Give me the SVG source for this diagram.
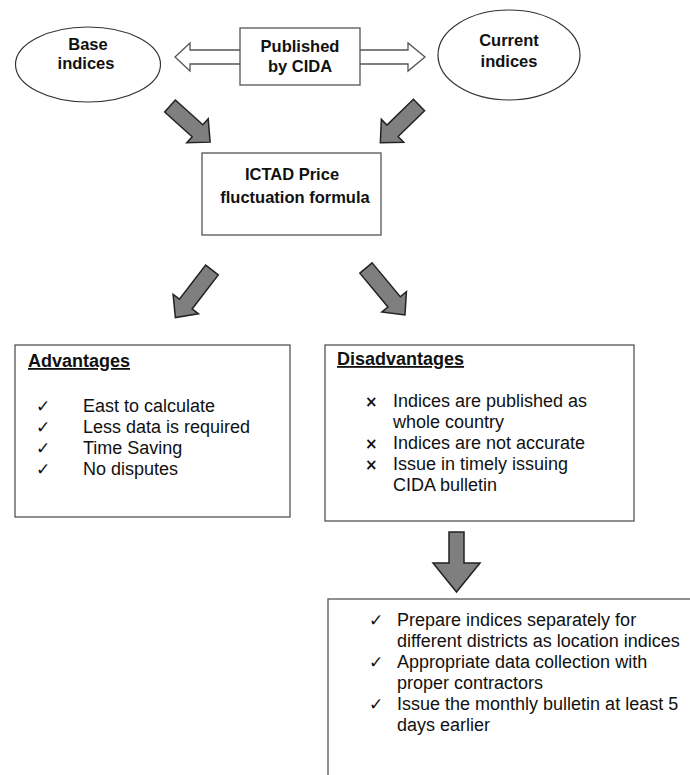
<svg xmlns="http://www.w3.org/2000/svg" width="690" height="775" viewBox="0 0 690 775">
<style>
.node{font-family:"Liberation Sans",Arial,sans-serif;font-weight:bold;font-size:16.5px;fill:#111;text-anchor:middle}
.head{font-family:"Liberation Sans",Arial,sans-serif;font-weight:bold;font-size:18px;fill:#111;text-decoration:underline}
.body{font-family:"Liberation Sans",Arial,sans-serif;font-size:18px;fill:#111}
.mark{font-family:"DejaVu Sans",sans-serif;font-size:17px;fill:#111}
.x{font-family:"DejaVu Sans",sans-serif;font-size:15px;font-weight:bold;fill:#111}
.box{fill:#fff;stroke:#555;stroke-width:1.3}
.ell{fill:#fff;stroke:#333;stroke-width:1.2}
.garrow{fill:#7f7f7f;stroke:#222;stroke-width:1.5;stroke-linejoin:miter}
.warrow{fill:#fff;stroke:#555;stroke-width:1.3}
</style>
<rect width="690" height="775" fill="#fff"/>
<g id="connectors">
<polygon class="warrow" points="175,57 190,43 190,50 408,50 408,43 425,57 408,71 408,64 190,64 190,71"/>
<polygon class="garrow" transform="translate(170,106) rotate(42)" points="0,-8 37,-8 37,-16 54,0 37,16 37,8 0,8"/>
<polygon class="garrow" transform="translate(419,105) rotate(135.7)" points="0,-8 37,-8 37,-16 54,0 37,16 37,8 0,8"/>
<polygon class="garrow" transform="translate(212,270) rotate(127.6)" points="0,-8 43,-8 43,-16 60,0 43,16 43,8 0,8"/>
<polygon class="garrow" transform="translate(366,268) rotate(50.3)" points="0,-8 44,-8 44,-16 61,0 44,16 44,8 0,8"/>
<polygon class="garrow" points="449,532 464,532 464,563 480,563 456.5,592 433,563 449,563"/>
</g>
<g id="base-indices">
<ellipse class="ell" cx="88" cy="64.5" rx="72.5" ry="37.5"/>
<text class="node" x="88" y="50">Base</text>
<text class="node" x="86" y="69">indices</text>
</g>
<g id="published">
<rect class="box" x="240" y="28" width="120" height="57"/>
<text class="node" x="300" y="52">Published</text>
<text class="node" x="300" y="72">by CIDA</text>
</g>
<g id="current-indices">
<ellipse class="ell" cx="509" cy="55" rx="71" ry="45"/>
<text class="node" x="509" y="46">Current</text>
<text class="node" x="509" y="67">indices</text>
</g>
<g id="ictad">
<rect class="box" x="202" y="153" width="179" height="82"/>
<text class="node" x="292" y="180">ICTAD Price</text>
<text class="node" x="295" y="203">fluctuation formula</text>
</g>
<g id="advantages">
<rect class="box" x="15" y="345" width="275" height="172"/>
<text class="head" x="28" y="367">Advantages</text>
<text class="mark" x="36" y="412">✓</text><text class="body" x="83" y="412">East to calculate</text>
<text class="mark" x="36" y="433">✓</text><text class="body" x="83" y="433">Less data is required</text>
<text class="mark" x="36" y="454">✓</text><text class="body" x="83" y="454">Time Saving</text>
<text class="mark" x="36" y="475">✓</text><text class="body" x="83" y="475">No disputes</text>
</g>
<g id="disadvantages">
<rect class="box" x="325" y="345" width="309" height="176"/>
<text class="head" x="337" y="365">Disadvantages</text>
<text class="x" x="365" y="407">×</text><text class="body" x="393" y="407">Indices are published as</text>
<text class="body" x="393" y="428">whole country</text>
<text class="x" x="365" y="449">×</text><text class="body" x="393" y="449">Indices are not accurate</text>
<text class="x" x="365" y="470">×</text><text class="body" x="393" y="470">Issue in timely issuing</text>
<text class="body" x="393" y="491">CIDA bulletin</text>
</g>
<g id="solutions">
<rect class="box" x="328" y="599" width="400" height="220"/>
<text class="mark" x="369" y="626">✓</text><text class="body" x="397" y="626">Prepare indices separately for</text>
<text class="body" x="397" y="647">different districts as location indices</text>
<text class="mark" x="369" y="668">✓</text><text class="body" x="397" y="668">Appropriate data collection with</text>
<text class="body" x="397" y="689">proper contractors</text>
<text class="mark" x="369" y="710">✓</text><text class="body" x="397" y="710">Issue the monthly bulletin at least 5</text>
<text class="body" x="397" y="731">days earlier</text>
</g>
</svg>
